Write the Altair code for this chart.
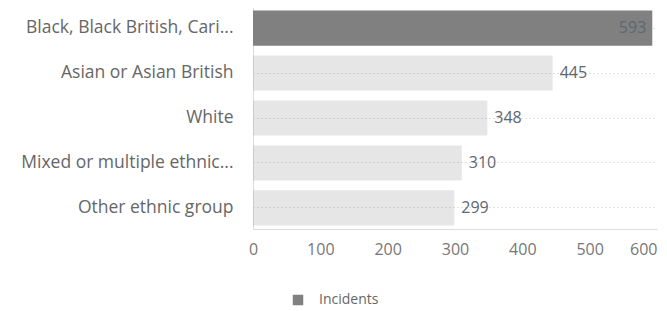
import altair as alt
import pandas as pd

categories = [
    "Black, Black British, Cari...",
    "Asian or Asian British",
    "White",
    "Mixed or multiple ethnic...",
    "Other ethnic group",
]
incidents = [593, 445, 348, 310, 299]
highlighted = [True, False, False, False, False]
series_name = "Incidents"
x_ticks = [0, 100, 200, 300, 400, 500, 600]

df = pd.DataFrame({
    "category": categories,
    "value": incidents,
    "highlight": highlighted,
    "series": [series_name] * len(categories),
})

FONT = "Open Sans"
y_enc = alt.Y(
    "category:N",
    sort=categories,
    title=None,
    scale=alt.Scale(paddingInner=0.22, paddingOuter=0.08),
    axis=alt.Axis(
        grid=True,
        gridDash=[1, 3],
        gridColor="#c4c4c4",
        bandPosition=0.5,
        ticks=False,
        domainColor="#dcdcdc",
        labelFont=FONT,
        labelFontSize=17.5,
        labelColor="#666666",
        labelPadding=20,
        labelLimit=400,
    ),
)
x_enc = alt.X(
    "value:Q",
    title=None,
    scale=alt.Scale(domain=[0, 600], nice=False),
    axis=alt.Axis(
        values=x_ticks,
        grid=False,
        ticks=False,
        domainColor="#dcdcdc",
        labelFont=FONT,
        labelFontSize=16,
        labelColor="#777777",
        labelPadding=12,
        labelAlign=alt.expr("datum.value == 600 ? 'right' : 'center'"),
    ),
)

base = alt.Chart(df)

bars = base.mark_bar(color="#808080").encode(
    y=y_enc,
    x=x_enc,
    color=alt.Color(
        "series:N",
        scale=alt.Scale(domain=[series_name], range=["#808080"]),
        legend=alt.Legend(
            title=None,
            orient="none",
            legendX=38,
            legendY=286,
            symbolType="square",
            symbolSize=110,
            symbolOpacity=1,
            symbolStrokeWidth=0,
            labelFont=FONT,
            labelFontSize=14,
            labelColor="#666666",
            labelOffset=14,
            padding=0,
        ),
    ),
    opacity=alt.condition(alt.datum.highlight, alt.value(1), alt.value(0.2)),
)

inside = base.transform_filter(alt.datum.highlight).mark_text(
    align="right", baseline="middle", dx=-6, font=FONT, fontSize=16, color="#606672"
).encode(y=alt.Y("category:N", sort=categories), x="value:Q", text="value:Q")

outside = base.transform_filter(~alt.datum.highlight).mark_text(
    align="left", baseline="middle", dx=7, font=FONT, fontSize=16, color="#606672"
).encode(y=alt.Y("category:N", sort=categories), x="value:Q", text="value:Q")

chart = (
    alt.layer(bars, inside, outside)
    .properties(
        width=404,
        height=222,
        autosize=alt.AutoSizeParams(type="none"),
        padding={"left": 245, "top": -1, "right": 1, "bottom": 80},
    )
    .configure_view(stroke=None)
)

chart.save("out.html", embed_options={"renderer": "svg", "actions": False})
